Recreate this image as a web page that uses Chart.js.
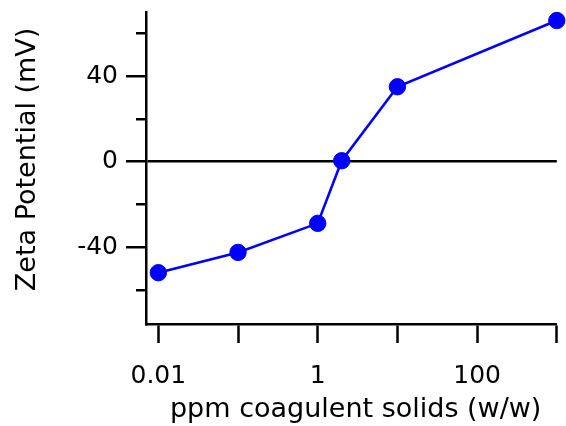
<!DOCTYPE html>
<html>
<head>
<meta charset="utf-8">
<script src="https://cdn.jsdelivr.net/npm/chart.js@4.4.1/dist/chart.umd.min.js"></script>
<style>
  html, body { margin: 0; padding: 0; background: #ffffff; }
  #wrap { width: 566px; height: 426px; position: relative; }
</style>
</head>
<body>
<div id="wrap"><canvas id="c" width="566" height="426"></canvas></div>
<script>
// ---- data ----
const concentrations = [0.01, 0.1, 1, 2, 10, 1000];          // ppm coagulent solids (w/w)
const zetaPotential  = [-52, -42.5, -28.9, 0.4, 35, 66];     // mV
const xTickValues = [0.01, 0.1, 1, 10, 100, 1000];
const xTickLabels = ['0.01', '', '1', '', '100', ''];
const yTickValues = [-60, -40, -20, 0, 20, 40, 60];
const yTickLabels = ['', '-40', '', '0', '', '40', ''];
const xTitle = '\u00a0ppm coagulent solids (w/w)';
const yTitle = '\u00a0\u00a0Zeta Potential (mV)';
const xRange = [0.007, 1000];
const yRange = [-76, 70];

const FONT = '"DejaVu Sans", Verdana, sans-serif';
const INK = '#000000';

new Chart(document.getElementById('c'), {
  type: 'line',
  data: {
    datasets: [{
      data: concentrations.map((x, i) => ({ x: x, y: zetaPotential[i] })),
      borderColor: '#0000ff',
      backgroundColor: '#0000ff',
      borderWidth: 2.6,
      pointRadius: 8.2,
      pointBorderWidth: 1,
      pointHoverRadius: 8.2,
      pointBackgroundColor: '#0000ff',
      pointBorderColor: '#0000ff',
      tension: 0,
      clip: false
    }]
  },
  options: {
    responsive: false,
    animation: false,
    events: [],
    layout: { padding: { top: 12, right: 8, left: 0, bottom: 0 } },
    plugins: { legend: { display: false }, tooltip: { enabled: false } },
    scales: {
      x: {
        type: 'logarithmic',
        min: xRange[0],
        max: xRange[1],
        afterBuildTicks: (s) => { s.ticks = xTickValues.map(v => ({ value: v })); },
        afterFit: (s) => { s.height = 102; s.paddingLeft = 0; s.paddingRight = 0; },
        border: { display: true, color: INK, width: 2.5 },
        grid: {
          drawOnChartArea: false,
          drawTicks: true,
          tickLength: 19,
          tickWidth: 2.5,
          tickColor: INK
        },
        ticks: {
          autoSkip: false,
          maxRotation: 0,
          padding: 18,
          color: INK,
          font: { family: FONT, size: 25 },
          callback: (v) => { const i = xTickValues.indexOf(v); return i >= 0 ? xTickLabels[i] : ''; }
        },
        title: {
          display: true,
          text: xTitle,
          color: INK,
          font: { family: FONT, size: 27 },
          padding: { top: 0, bottom: 0 }
        }
      },
      y: {
        type: 'linear',
        min: yRange[0],
        max: yRange[1],
        afterBuildTicks: (s) => { s.ticks = yTickValues.map(v => ({ value: v })); },
        afterFit: (s) => { s.width = 146; s.paddingTop = 0; s.paddingBottom = 0; },
        border: { display: true, color: INK, width: 2.5 },
        grid: {
          drawOnChartArea: true,
          drawTicks: true,
          tickLength: 20,
          tickWidth: 2.5,
          tickColor: INK,
          lineWidth: 2.5,
          color: (ctx) => (ctx.tick && ctx.tick.value === 0) ? INK : 'rgba(0,0,0,0)',
          tickBorderDash: (ctx) => {
            const i = yTickValues.indexOf(ctx.tick ? ctx.tick.value : NaN);
            return (i >= 0 && yTickLabels[i] === '') ? [0, 10, 10, 0] : [];
          }
        },
        ticks: {
          autoSkip: false,
          padding: 8,
          color: INK,
          font: { family: FONT, size: 25 },
          callback: (v) => { const i = yTickValues.indexOf(v); return i >= 0 ? yTickLabels[i] : ''; }
        },
        title: {
          display: true,
          text: yTitle,
          color: INK,
          font: { family: FONT, size: 27 },
          padding: { top: 12, bottom: 0 }
        }
      }
    }
  }
});
</script>
</body>
</html>
